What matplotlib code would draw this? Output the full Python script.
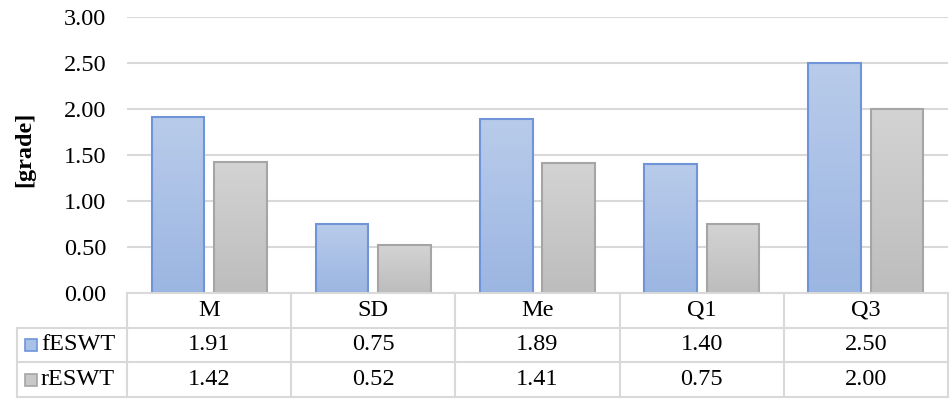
import numpy as np
import matplotlib.pyplot as plt
from matplotlib.colors import LinearSegmentedColormap
from matplotlib.patches import Rectangle

categories = ['M', 'SD', 'Me', 'Q1', 'Q3']
series_names = ['fESWT', 'rESWT']
f_vals = [1.91, 0.75, 1.89, 1.40, 2.50]
r_vals = [1.42, 0.52, 1.41, 0.75, 2.00]
y_ticks = [0.0, 0.5, 1.0, 1.5, 2.0, 2.5, 3.0]

FONT = 'Liberation Serif'
FS = 17.5
GRID_C = '#d9d9d9'

# fill gradients (bottom -> top) and edges
f_cmap = LinearSegmentedColormap.from_list('f', ['#9cb6e2', '#b8cbea'])
r_cmap = LinearSegmentedColormap.from_list('r', ['#bdbdbd', '#d3d3d3'])
f_edge = '#6f95d8'
r_edge = '#a5a5a5'

W, H = 950, 400
fig = plt.figure(figsize=(W / 100, H / 100), dpi=100)

ax = fig.add_axes([127 / W, 107 / H, 821 / W, 276 / H])

for y in y_ticks:
    ax.axhline(y, color=GRID_C, lw=1.5, zorder=0)

x = np.arange(len(categories))
bw = 0.32
off = 0.19
grad = np.linspace(0, 1, 100).reshape(-1, 1)

for vals, dx, cmap, edge in [(f_vals, -off, f_cmap, f_edge),
                             (r_vals, off, r_cmap, r_edge)]:
    bars = ax.bar(x + dx, vals, width=bw, facecolor='none',
                  edgecolor=edge, linewidth=1.5, zorder=3)
    for b in bars:
        x0, w, h = b.get_x(), b.get_width(), b.get_height()
        im = ax.imshow(grad, extent=[x0, x0 + w, 0, h], cmap=cmap,
                       origin='lower', aspect='auto', zorder=2)
        im.set_clip_path(b)

ax.set_yticks(y_ticks)
ax.set_yticklabels([f'{t:.2f}' for t in y_ticks], fontfamily=FONT, fontsize=FS)
ax.tick_params(axis='y', length=0, pad=15)
ax.set_xticks([])
for s in ax.spines.values():
    s.set_visible(False)
ax.set_ylabel('[grade]', fontfamily=FONT, fontsize=FS, fontweight='bold')
ax.yaxis.set_label_coords(-0.112, 0.52)
ax.set_xlim(-0.5, len(categories) - 0.5)
ax.set_ylim(0, 3)

# data table
tax = fig.add_axes([127 / W, 3 / H, 821 / W, 104 / H])
tax.set_xlim(-0.5, len(categories) - 0.5)
tax.set_ylim(0, 3)
tax.axis('off')

unit = 821 / 5  # pixels per category
lab_left = -0.5 - 110 / unit
lkw = dict(color=GRID_C, lw=1.5, clip_on=False)
tax.plot([-0.5, 4.5], [3, 3], **lkw)
for yy in [2, 1, 0]:
    tax.plot([lab_left, 4.5], [yy, yy], **lkw)
for xx in np.arange(-0.5, 5.0, 1.0):
    tax.plot([xx, xx], [0, 3], **lkw)
tax.plot([lab_left, lab_left], [0, 2], **lkw)

tkw = dict(fontfamily=FONT, fontsize=FS, ha='center', va='center')
for i, c in enumerate(categories):
    tax.text(i, 2.5, c, **tkw)
    tax.text(i, 1.5, f'{f_vals[i]:.2f}', **tkw)
    tax.text(i, 0.5, f'{r_vals[i]:.2f}', **tkw)

key_w = 12 / unit
for row, name, face, edge in [(1.5, series_names[0], '#a9c0e7', f_edge),
                              (0.5, series_names[1], '#c8c8c8', r_edge)]:
    kx = lab_left + 8 / unit
    tax.add_patch(Rectangle((kx, row - 0.17), key_w, 0.34, facecolor=face,
                            edgecolor=edge, lw=1.2, clip_on=False))
    tax.text(kx + key_w + 4 / unit, row, name, fontfamily=FONT,
             fontsize=FS, ha='left', va='center')

fig.savefig('out.png', dpi=100)
